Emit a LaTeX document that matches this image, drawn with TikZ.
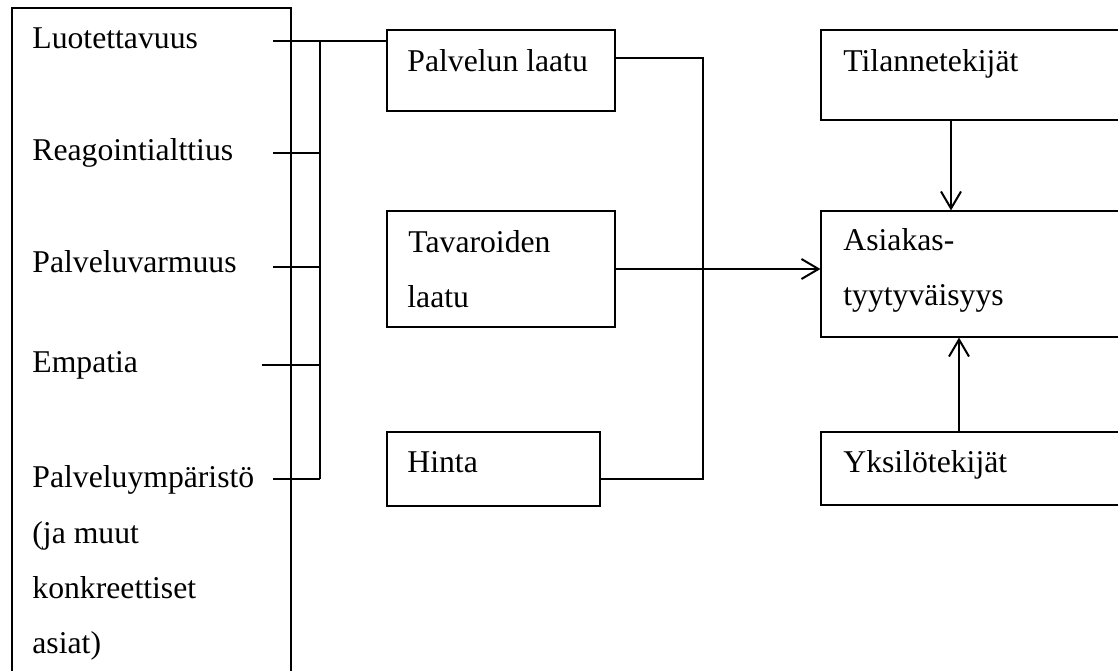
\documentclass[tikz,border=0pt]{standalone}
\usepackage{fontspec}
\setmainfont{Liberation Serif}
\usetikzlibrary{arrows.meta}
\begin{document}
\begin{tikzpicture}[x=0.5pt,y=-0.5pt,
  box/.style={draw, line width=0.55pt, inner sep=0pt, minimum width=#1},
  txt/.style={anchor=base west, inner sep=0pt, font=\fontsize{15.85}{19}\selectfont},
  conn/.style={line width=0.95pt},
  arr/.style={line width=0.95pt, -{Straight Barb[length=8.5pt, width=10pt, line width=1pt]}}]
\useasboundingbox (0,0) rectangle (1118,670);
\clip (0,0) rectangle (1118,670);
% left box
\node[box=139.5pt, minimum height=346pt] (L) at (151.5,354) {};
\node[txt] (t1) at (32,48) {Luotettavuus};
\node[txt] (t2) at (32,160) {Reagointialttius};
\node[txt] (t3) at (32,272) {Palveluvarmuus};
\node[txt] (t4) at (32,372) {Empatia};
\node[txt] (t5) at (32,487) {Palveluympäristö};
\node[txt] (t6) at (32,543) {(ja muut};
\node[txt] (t7) at (32,598) {konkreettiset};
\node[txt] (t8) at (32,653) {asiat)};
% middle boxes
\node[box=114pt, minimum height=40.5pt] (P1) at (501,70.5) {};
\node[txt] at (407,71) {Palvelun laatu};
\node[box=114pt, minimum height=58pt] (P2) at (501,269) {};
\node[txt] at (408,252) {Tavaroiden};
\node[txt] at (407,307) {laatu};
\node[box=106.5pt, minimum height=37pt] (P3) at (493.5,469) {};
\node[txt] at (407,472) {Hinta};
% right boxes
\node[box=189.5pt, minimum height=45pt] (R1) at (1010.5,75) {};
\node[txt] at (843,71) {Tilannetekijät};
\node[box=189.5pt, minimum height=63pt] (R2) at (1010.5,274) {};
\node[txt] at (843,250) {Asiakas-};
\node[txt] at (843,305) {tyytyväisyys};
\node[box=189.5pt, minimum height=36.5pt] (R3) at (1010.5,468.5) {};
\node[txt] at (843,472) {Yksilötekijät};
% coordinates
\coordinate (a1) at (273,41);
\coordinate (a2) at (273,153);
\coordinate (a3) at (273,267);
\coordinate (a4) at (262,365);
\coordinate (a5) at (273,479);
\coordinate (b1) at (320,41);
\coordinate (b5) at (320,479);
\coordinate (j1) at (703,58);
\coordinate (j2) at (703,479);
\coordinate (ta) at (951,0);
\coordinate (yk) at (959,0);
% connectors
\draw[conn] (a1) -- (a1 -| P1.west);
\draw[conn] (b1) -- (b5);
\draw[conn] (a2) -- (a2 -| b1);
\draw[conn] (a3) -- (a3 -| b1);
\draw[conn] (a4) -- (a4 -| b1);
\draw[conn] (a5) -- (b5);
\draw[conn] (j1 -| P1.east) -- (j1) -- (j2) -- (j2 -| P3.east);
\draw[arr] (P2.east) -- (P2.east -| R2.west);
\draw[arr] (ta |- R1.south) -- (ta |- R2.north);
\draw[arr] (yk |- R3.north) -- (yk |- R2.south);
\end{tikzpicture}
\end{document}
